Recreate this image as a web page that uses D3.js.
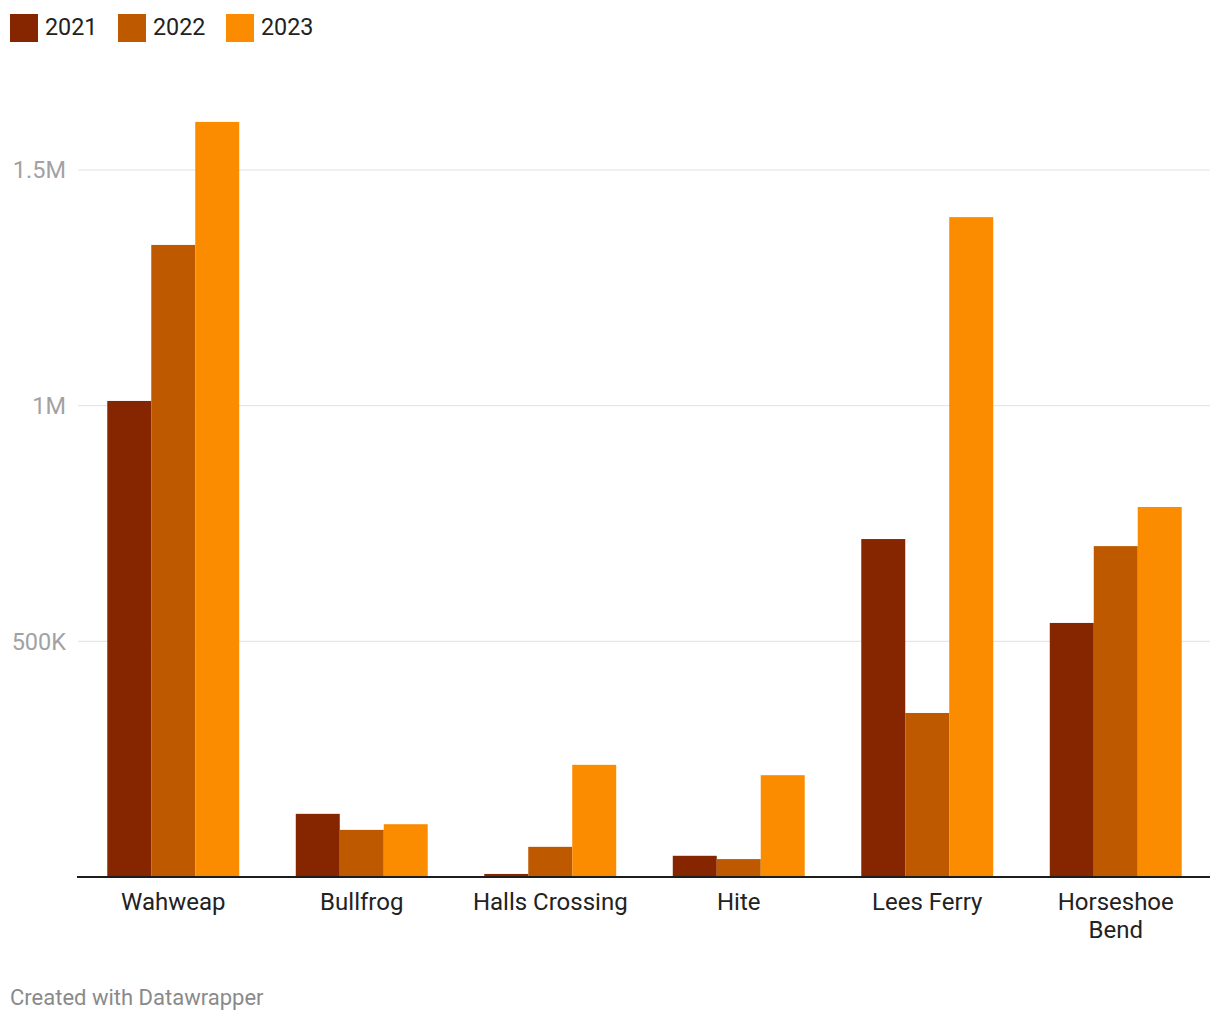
<!DOCTYPE html>
<html><head><meta charset="utf-8">
<script src="https://cdn.jsdelivr.net/npm/d3@7"></script>
<style>body{margin:0;background:#fff;font-family:Roboto,sans-serif}</style>
</head><body><svg id="c" width="1220" height="1020"></svg>
<script>
const categories = ["Wahweap","Bullfrog","Halls Crossing","Hite","Lees Ferry","Horseshoe Bend"];
const seriesNames = ["2021","2022","2023"];
const colors = ["#852600","#be5900","#fb8c00"];
const v2021 = [1010000,134000,6500,45000,717000,539000];
const v2022 = [1341000,100000,64000,38000,348000,702000];
const v2023 = [1602000,112000,238000,216000,1400000,785000];
const yTicks = [500000,1000000,1500000];
const yTickLabels = ["500K","1M","1.5M"];
const series = [v2021,v2022,v2023];

const svg = d3.select("#c");
const y = d3.scaleLinear().domain([0,1500000]).range([877,170]);
const x = d3.scaleBand().domain(categories).range([79,1210]).paddingInner(0.3).paddingOuter(0.15);
const xs = d3.scaleBand().domain(seriesNames).range([0,x.bandwidth()]);

// grid
const g = svg.append("g");
yTicks.forEach((t,i)=>{
  g.append("line").attr("x1",78).attr("x2",1210).attr("y1",y(t)).attr("y2",y(t)).attr("stroke","#e1e1e1").attr("stroke-width",1);
  g.append("text").attr("x",66).attr("y",y(t)).attr("dy","0.35em").attr("text-anchor","end")
    .attr("fill","#a2a2a2").attr("font-size",23.5).text(yTickLabels[i]);
});

// bars
categories.forEach((c,ci)=>{
  seriesNames.forEach((s,si)=>{
    const val = series[si][ci];
    svg.append("rect").attr("x",x(c)+xs(s)).attr("width",xs.bandwidth())
      .attr("y",y(val)).attr("height",y(0)-y(val)).attr("fill",colors[si]);
  });
});

// axis line
svg.append("line").attr("x1",77).attr("x2",1210).attr("y1",y(0)).attr("y2",y(0)).attr("stroke","#1d1d1d").attr("stroke-width",2);

// category labels
const labelLines = {"Horseshoe Bend":["Horseshoe","Bend"]};
categories.forEach(c=>{
  const lines = labelLines[c] || [c];
  const t = svg.append("text").attr("x",x(c)+x.bandwidth()/2).attr("y",910).attr("text-anchor","middle")
    .attr("fill","#222").attr("font-size",24);
  lines.forEach((l,i)=>t.append("tspan").attr("x",x(c)+x.bandwidth()/2).attr("dy",i?27.5:0).text(l));
});

// legend
const lx = [10,118,226];
seriesNames.forEach((s,i)=>{
  svg.append("rect").attr("x",lx[i]).attr("y",14).attr("width",28).attr("height",28).attr("fill",colors[i]);
  svg.append("text").attr("x",lx[i]+35).attr("y",34.5).attr("fill","#222").attr("font-size",23.3).text(s);
});

svg.append("text").attr("x",10).attr("y",1005).attr("fill","#8a8a8a").attr("font-size",22).text("Created with Datawrapper");
</script></body></html>
